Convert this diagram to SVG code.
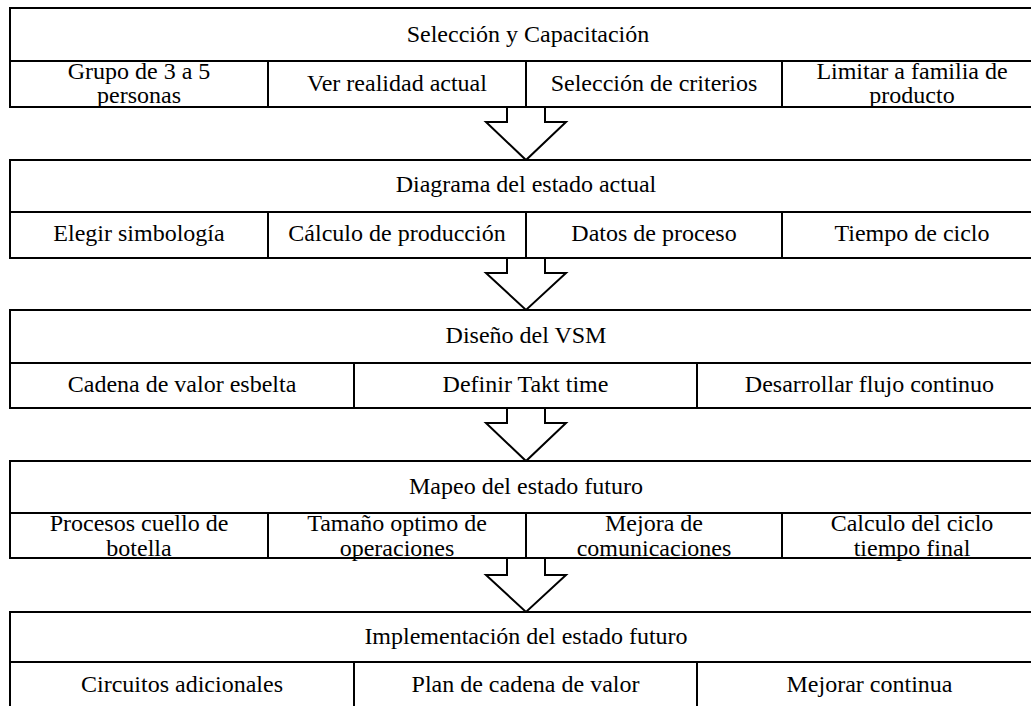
<svg xmlns="http://www.w3.org/2000/svg" width="1031" height="706" viewBox="0 0 1031 706">
<style>
.box{fill:#fff;stroke:#000;stroke-width:2}
.ln{stroke:#000;stroke-width:2;fill:none}
.arr{fill:#fff;stroke:#000;stroke-width:2;stroke-linejoin:miter}
text{font-family:'Liberation Serif','Times New Roman',serif;font-size:24px;fill:#000;text-anchor:middle}
</style>
<rect width="1031" height="706" fill="#fff"/>
<g id="connectors">
<path class="arr" d="M507,107 V122 H486 L526,160 L566,122 H545 V107"/>
<path class="arr" d="M507,258 V273 H486 L526,310 L566,273 H545 V258"/>
<path class="arr" d="M507,408 V423 H486 L526,461 L566,423 H545 V408"/>
<path class="arr" d="M507,558 V575 H486 L526,612 L566,575 H545 V558"/>
</g>
<g id="node1">
<rect class="box" x="10" y="8" width="1032" height="99"/>
<path class="ln" d="M10,61 H1042 M268,61 V107 M526,61 V107 M782,61 V107"/>
<text x="528" y="42">Selección y Capacitación</text>
<text x="139" y="79">Grupo de 3 a 5</text>
<text x="139" y="103">personas</text>
<text x="397" y="91">Ver realidad actual</text>
<text x="654" y="91">Selección de criterios</text>
<text x="912" y="79">Limitar a familia de</text>
<text x="912" y="103">producto</text>
</g>
<g id="node2">
<rect class="box" x="10" y="160" width="1032" height="98"/>
<path class="ln" d="M10,212 H1042 M268,212 V258 M526,212 V258 M782,212 V258"/>
<text x="526" y="192">Diagrama del estado actual</text>
<text x="139" y="241">Elegir simbología</text>
<text x="397" y="241">Cálculo de producción</text>
<text x="654" y="241">Datos de proceso</text>
<text x="912" y="241">Tiempo de ciclo</text>
</g>
<g id="node3">
<rect class="box" x="10" y="310" width="1032" height="98"/>
<path class="ln" d="M10,363 H1042 M354,363 V408 M697,363 V408"/>
<text x="526" y="343">Diseño del VSM</text>
<text x="182" y="392">Cadena de valor esbelta</text>
<text x="525.5" y="392">Definir Takt time</text>
<text x="869.5" y="392">Desarrollar flujo continuo</text>
</g>
<g id="node4">
<rect class="box" x="10" y="461" width="1032" height="97"/>
<path class="ln" d="M10,513 H1042 M268,513 V558 M526,513 V558 M782,513 V558"/>
<text x="526" y="494">Mapeo del estado futuro</text>
<text x="139" y="531">Procesos cuello de</text>
<text x="139" y="556">botella</text>
<text x="397" y="531">Tamaño optimo de</text>
<text x="397" y="556">operaciones</text>
<text x="654" y="531">Mejora de</text>
<text x="654" y="556">comunicaciones</text>
<text x="912" y="531">Calculo del ciclo</text>
<text x="912" y="556">tiempo final</text>
</g>
<g id="node5">
<rect class="box" x="10" y="612" width="1032" height="98"/>
<path class="ln" d="M10,662 H1042 M354,662 V710 M697,662 V710"/>
<text x="526" y="644">Implementación del estado futuro</text>
<text x="182" y="692">Circuitos adicionales</text>
<text x="525.5" y="692">Plan de cadena de valor</text>
<text x="869.5" y="692">Mejorar continua</text>
</g>
</svg>
